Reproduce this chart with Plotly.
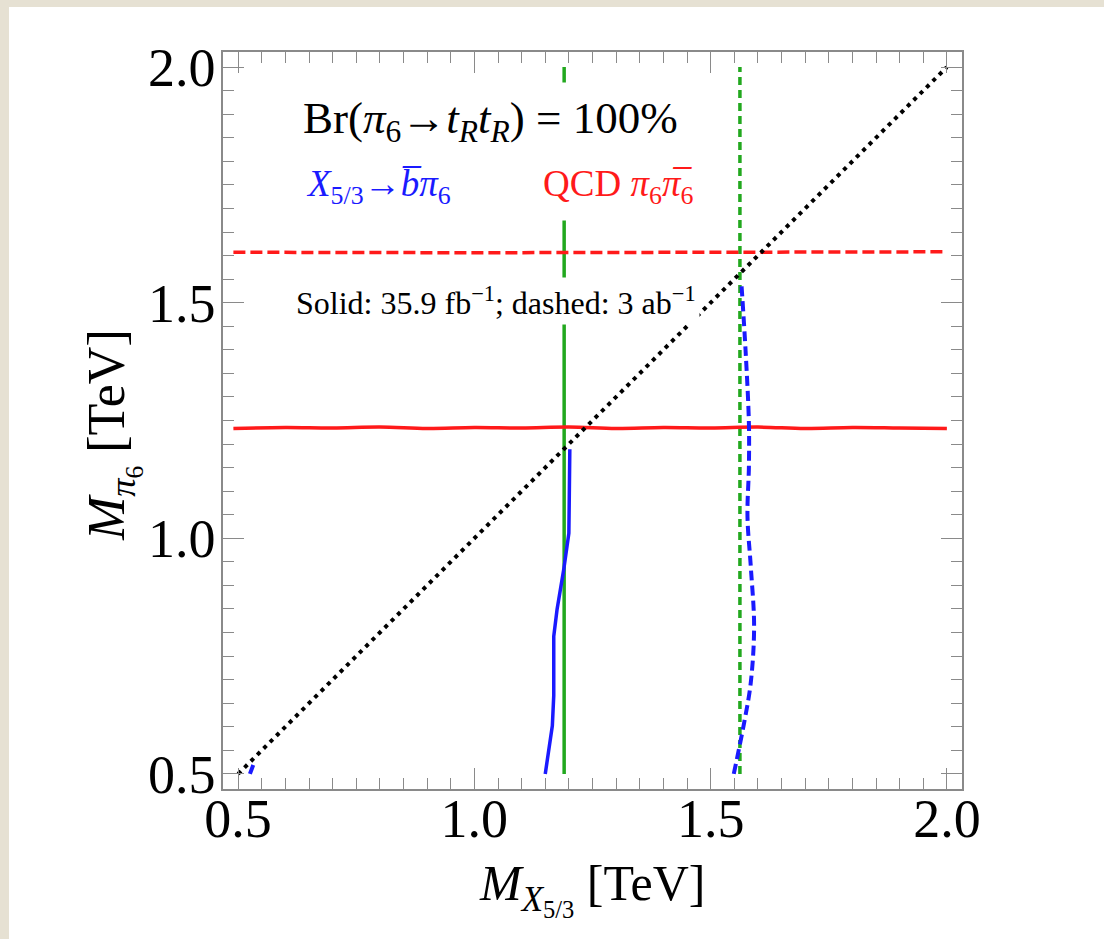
import plotly.graph_objects as go

# ---- data (TeV) ----
diag_x = [0.5, 2.0]
diag_y = [0.5, 2.0]

qcd_solid_x = [0.49, 0.6, 0.7, 0.8, 0.9, 1.0, 1.1, 1.2, 1.3, 1.4, 1.5, 1.6, 1.7, 1.8, 1.9, 2.0]
qcd_solid_y = [1.233, 1.235, 1.234, 1.236, 1.233, 1.235, 1.234, 1.236, 1.233, 1.235, 1.234, 1.236, 1.233, 1.235, 1.234, 1.233]
qcd_dash_x = [0.49, 1.0, 1.5, 2.0]
qcd_dash_y = [1.607, 1.606, 1.607, 1.608]

x53_solid_main_x = [1.150, 1.165, 1.168, 1.168, 1.175, 1.189, 1.200, 1.202]
x53_solid_main_y = [0.500, 0.602, 0.666, 0.792, 0.849, 0.933, 1.011, 1.189]
x53_solid_low_x = [0.525, 0.532]
x53_solid_low_y = [0.500, 0.519]

x53_dash_x = [1.549, 1.571, 1.585, 1.592, 1.585, 1.578, 1.581, 1.581, 1.574, 1.565]
x53_dash_y = [0.500, 0.609, 0.694, 0.813, 0.940, 1.046, 1.152, 1.244, 1.398, 1.543]

green_solid_x = [1.19, 1.19]
green_solid_y = [0.5, 2.0]
green_dash_x = [1.562, 1.562]
green_dash_y = [0.5, 2.0]

xtick_vals = [0.5, 1.0, 1.5, 2.0]
xtick_text = ["0.5", "1.0", "1.5", "2.0"]
ytick_vals = [0.5, 1.0, 1.5, 2.0]
ytick_text = ["0.5", "1.0", "1.5", "2.0"]

SERIF = "Liberation Serif"
GREEN = "#22a81e"
RED = "#ff1a1a"
BLUE = "#1a1aff"

fig = go.Figure()

fig.add_trace(go.Scatter(x=green_solid_x, y=green_solid_y, mode="lines",
                         line=dict(color=GREEN, width=3.5), hoverinfo="skip"))
fig.add_trace(go.Scatter(x=green_dash_x, y=green_dash_y, mode="lines",
                         line=dict(color=GREEN, width=3.5, dash="8px,5px"), hoverinfo="skip"))
fig.add_trace(go.Scatter(x=qcd_solid_x, y=qcd_solid_y, mode="lines",
                         line=dict(color=RED, width=3.5, shape="spline"), hoverinfo="skip"))
fig.add_trace(go.Scatter(x=qcd_dash_x, y=qcd_dash_y, mode="lines",
                         line=dict(color=RED, width=3.5, dash="12px,5px"), hoverinfo="skip"))
fig.add_trace(go.Scatter(x=x53_solid_main_x, y=x53_solid_main_y, mode="lines",
                         line=dict(color=BLUE, width=3.5), hoverinfo="skip"))
fig.add_trace(go.Scatter(x=x53_solid_low_x, y=x53_solid_low_y, mode="lines",
                         line=dict(color=BLUE, width=4), hoverinfo="skip"))
fig.add_trace(go.Scatter(x=x53_dash_x, y=x53_dash_y, mode="lines",
                         line=dict(color=BLUE, width=4, dash="10px,5px", shape="spline"),
                         hoverinfo="skip"))
fig.add_trace(go.Scatter(x=diag_x, y=diag_y, mode="lines",
                         line=dict(color="black", width=4, dash="4px,5px"), hoverinfo="skip"))

axis_common = dict(
    showgrid=False, zeroline=False,
    showline=True, linecolor="#8a8a8a", linewidth=1.5, mirror="allticks",
    ticks="inside", ticklen=21, tickwidth=1.3, tickcolor="#8a8a8a",
    tickfont=dict(family=SERIF, size=54, color="black"),
    minor=dict(ticks="inside", dtick=0.05, ticklen=11, tickwidth=1.3, tickcolor="#8a8a8a"),
    range=[0.468, 2.032],
)

fig.update_layout(
    width=1104, height=939,
    margin=dict(l=223, r=142, t=52, b=150),
    paper_bgcolor="#e6e1d3",
    plot_bgcolor="white",
    showlegend=False,
    xaxis=dict(axis_common, tickvals=xtick_vals, ticktext=xtick_text, ticklabelstandoff=-19),
    yaxis=dict(axis_common, tickvals=ytick_vals, ticktext=ytick_text, ticklabelstandoff=-5),
    shapes=[dict(type="rect", xref="paper", yref="paper",
                 x0=(9 - 223) / 739, x1=(1104 - 223) / 739,
                 y0=(789 - 939) / 737, y1=(789 - 7) / 737,
                 fillcolor="white", line=dict(width=0), layer="below")],
)

# axis titles
fig.add_annotation(xref="paper", yref="paper", x=(592 - 223) / 739, y=(789 - 889) / 737,
                   showarrow=False, xanchor="center", yanchor="middle",
                   text="<i>M</i><sub><i>X</i><sub>5/3</sub></sub> [TeV]",
                   font=dict(family=SERIF, size=50, color="black"))
fig.add_annotation(xref="paper", yref="paper", x=(113 - 223) / 739, y=(789 - 435) / 737,
                   showarrow=False, xanchor="center", yanchor="middle", textangle=-90,
                   text="<i>M</i><sub><i>π</i><sub>6</sub></sub> [TeV]",
                   font=dict(family=SERIF, size=52, color="black"))

annots = [
    dict(x=1.034, y=1.886,
         text="Br(<i>π</i><sub>6</sub>→<i>t<sub>R</sub>t<sub>R</sub></i>) = 100%",
         font=dict(family=SERIF, size=45, color="black"), borderpad=10),
    dict(x=0.797, y=1.747,
         text="<i>X</i><sub>5/3</sub>→<i>b\u0305π</i><sub>6</sub>",
         font=dict(family=SERIF, size=37, color=BLUE), borderpad=6),
    dict(x=1.303, y=1.747,
         text="QCD <i>π</i><sub>6</sub><i>π\u0305</i><sub>6</sub>",
         font=dict(family=SERIF, size=37, color=RED), borderpad=10),
    dict(x=1.046, y=1.504,
         text="Solid: 35.9 fb<sup>−1</sup>; dashed: 3 ab<sup>−1</sup>",
         font=dict(family=SERIF, size=32, color="black"), borderpad=3),
]
for a in annots:
    fig.add_annotation(xref="x", yref="y", showarrow=False, bgcolor="white", **a)

fig.write_html("out.html")
